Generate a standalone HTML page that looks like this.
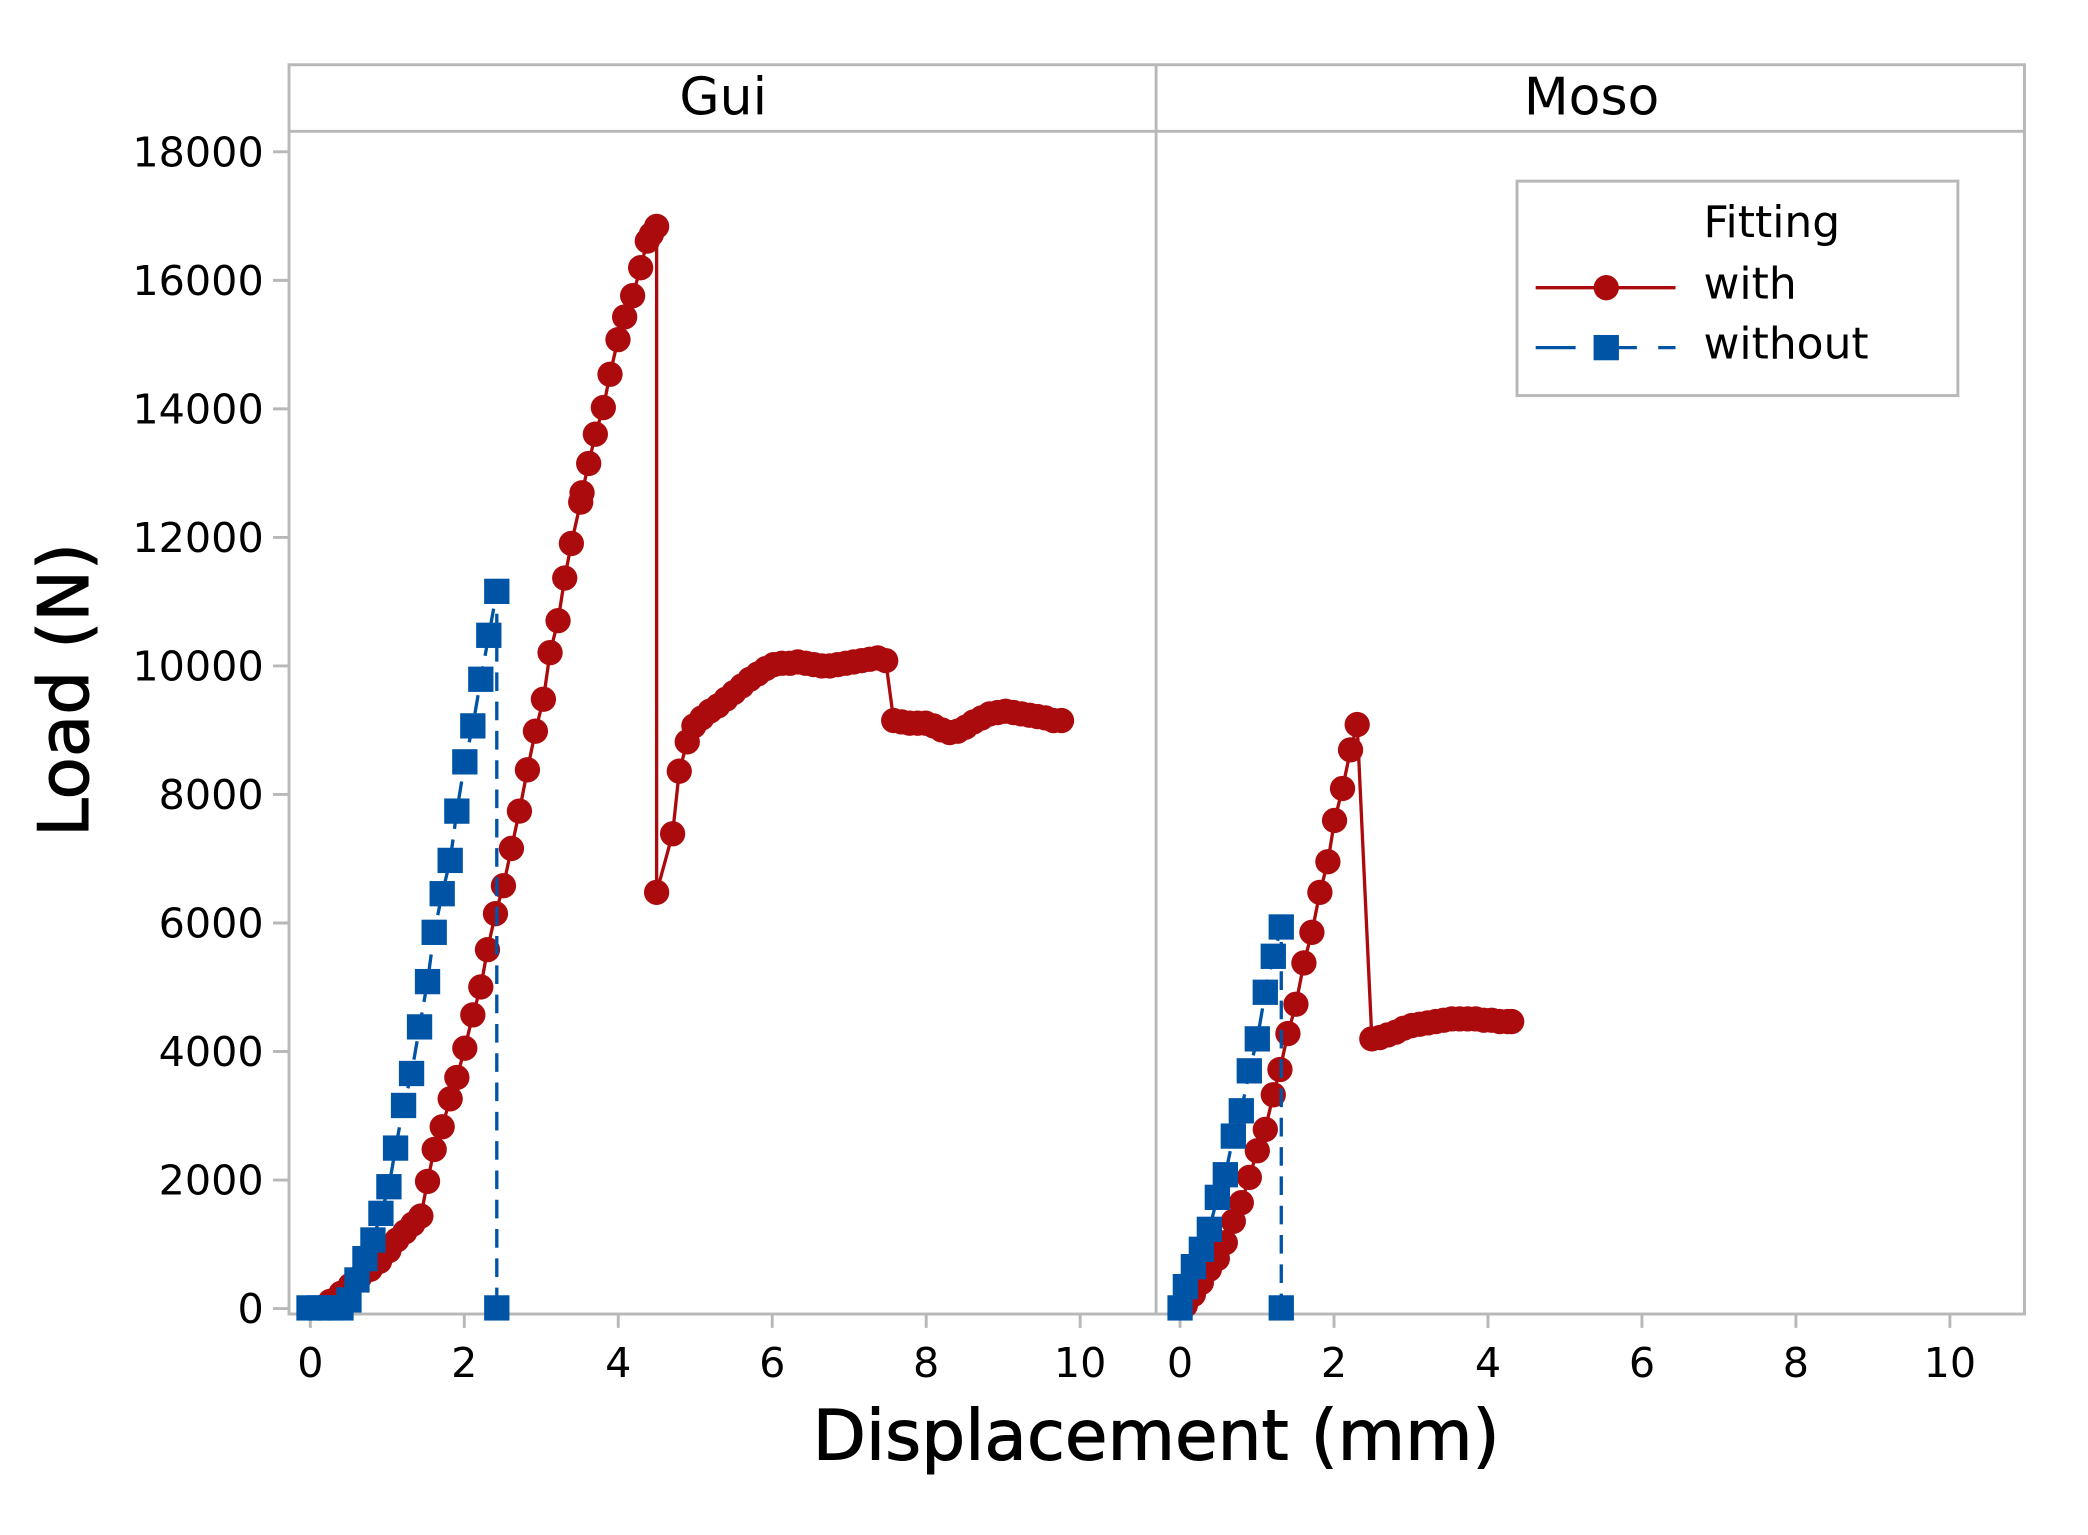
<!DOCTYPE html>
<html><head><meta charset="utf-8"><style>html,body{margin:0;padding:0;background:#fff}svg{display:block}</style></head>
<body>
<svg id="s" width="2088" height="1535" viewBox="0 0 1567.7 1152.5" xmlns="http://www.w3.org/2000/svg" font-family="'DejaVu Sans','Liberation Sans',sans-serif">
<rect x="0" y="0" width="1567.7" height="1152.5" fill="#fff"/>
<g fill="none" stroke="#b8b8b8" stroke-width="2.2">
<rect x="217" y="48.6" width="1303" height="938"/>
<line x1="217" y1="98.6" x2="1520" y2="98.6"/>
<line x1="868" y1="48.6" x2="868" y2="986.6"/>
</g>
<g id="ticks" stroke="#b8b8b8" stroke-width="2.2"></g>
<g id="lbl" font-size="31" fill="#000"></g>
<text x="543" y="86" font-size="39" text-anchor="middle">Gui</text>
<text x="1195" y="86" font-size="39" text-anchor="middle">Moso</text>
<text x="868" y="1096" font-size="52" text-anchor="middle" stroke="#000" stroke-width="0.8">Displacement (mm)</text>
<text transform="translate(66,518) rotate(-90)" font-size="52" text-anchor="middle" stroke="#000" stroke-width="0.8">Load (N)</text>
<g id="data"></g>
<rect x="1139" y="136" width="331" height="161" fill="#fff" stroke="#b8b8b8" stroke-width="2.2"/>
<line x1="1153" y1="216" x2="1258" y2="216" stroke="#ac0b0e" stroke-width="2.5"/>
<circle cx="1206" cy="216" r="9.5" fill="#ac0b0e"/>
<line x1="1153" y1="261" x2="1258" y2="261" stroke="#0054a6" stroke-width="2.5" stroke-dasharray="30,16"/>
<rect x="1196.5" y="251.5" width="19" height="19" fill="#0054a6"/>
<text x="1279" y="178" font-size="33">Fitting</text>
<text x="1279" y="224" font-size="33">with</text>
<text x="1279" y="269" font-size="33">without</text>
</svg>
<script>
var NS="http://www.w3.org/2000/svg";
function el(p,n,a,t){var e=document.createElementNS(NS,n);for(var k in a)e.setAttribute(k,a[k]);if(t!==undefined)e.textContent=t;document.getElementById(p).appendChild(e);return e;}
for(var i=0;i<=9;i++){var y=982.5-i*96.5;el("ticks","line",{x1:205,y1:y,x2:217,y2:y});el("lbl","text",{x:198,y:y+11,"text-anchor":"end"},String(i*2000));}
[233,886].forEach(function(x0){for(var j=0;j<=5;j++){var x=x0+j*115.6;el("ticks","line",{x1:x,y1:986.6,x2:x,y2:997});el("lbl","text",{x:x,y:1034,"text-anchor":"middle"},String(j*2));}});
function series(pts,col,dash,marker){
 el("data","polyline",{points:pts.map(function(p){return p.join(",")}).join(" "),fill:"none",stroke:col,"stroke-width":2.5,"stroke-dasharray":dash||"none"});
 pts.forEach(function(p){if(marker=="c")el("data","circle",{cx:p[0],cy:p[1],r:9.5,fill:col});else el("data","rect",{x:p[0]-9.5,y:p[1]-9.5,width:19,height:19,fill:col});});
}
var R="#ac0b0e",B="#0054a6";
var gr=[[240,982],[248,977],[256,971],[263,965],[270,959],[278,953],[285,947],[292,939],[298,931],[304,925],[310,919],[316,913],[321,887],[326,863],[332,846],[338,825],[343,809],[349,787],[355,762],[361,741],[366,713],[372,686],[378,665],[384,637],[390,609],[396,578],[402,549],[408,525],[413,490],[419,466],[424,434],[429,408],[436,377],[437,370],[442,348],[447,326],[453,306],[458,281],[464,255],[469,238],[475,222],[481,201],[486,181],[489,176],[493,170],[493,670],[505,626],[510,579],[516,557],[521,545],[527,539],[533,534],[539,530],[545,525],[551,520],[557,515],[563,510],[569,506],[575,502],[581,499],[587,498],[593,498],[599,497],[605,498],[611,499],[617,500],[623,500],[629,499],[635,498],[641,497],[647,496],[653,495],[659,494],[665,496],[671,541],[677,542],[683,543],[689,543],[695,543],[701,545],[707,548],[713,550],[719,549],[725,546],[731,542],[737,539],[743,536],[749,535],[755,534],[761,535],[767,536],[773,537],[779,538],[785,539],[791,541],[797,541]];
series(gr,R,null,"c");
var gb=[[232,982],[240,982],[248,982],[256,982],[262,976],[268,961],[274,945],[280,931],[286,911],[292,891],[297,862],[303,830],[309,806],[315,771],[321,737],[326,700],[332,671],[338,646],[343,609],[349,572],[355,545],[361,510],[367,477],[373,444],[373,982]];
series(gb,B,"14,8","s");
var mr=[[890,980],[896,972],[902,963],[908,953],[914,945],[920,933],[926,917],[932,903],[938,884],[944,864],[950,848],[956,822],[961,803],[967,776],[973,754],[979,723],[985,700],[991,670],[997,647],[1002,616],[1008,592],[1014,563],[1019,544],[1030,780],[1036,779],[1042,777],[1048,775],[1054,772],[1060,770],[1066,769],[1072,768],[1078,767],[1084,766],[1090,765],[1096,765],[1102,765],[1108,765],[1114,766],[1120,766],[1126,767],[1132,767],[1135,767]];
series(mr,R,null,"c");
var mb=[[886,982],[890,966],[896,951],[902,938],[908,923],[914,899],[920,882],[926,853],[932,834],[938,804],[944,780],[950,745],[956,718],[962,696],[962,982]];
series(mb,B,"14,8","s");
</script>
</body></html>
